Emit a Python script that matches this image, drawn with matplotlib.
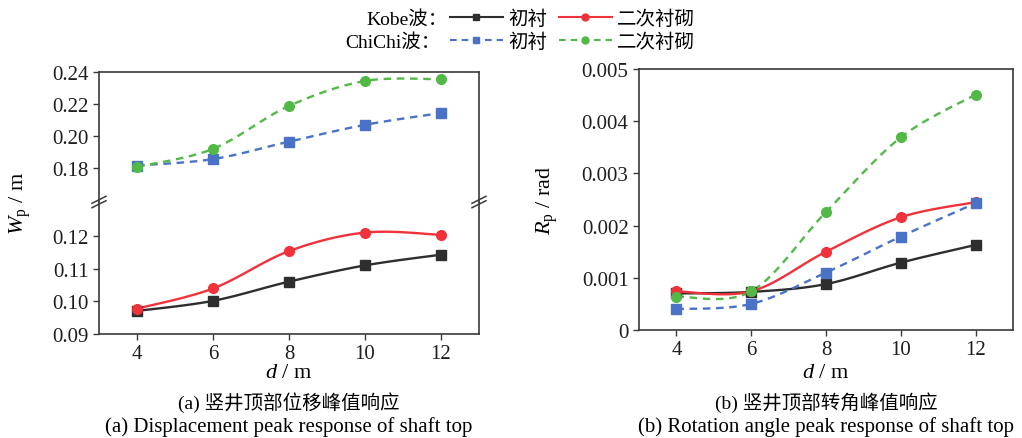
import numpy as np
import matplotlib
matplotlib.use("Agg")
import matplotlib.pyplot as plt
from matplotlib.lines import Line2D

plt.rcParams['font.family'] = ['Liberation Serif', 'Noto Sans CJK SC']
plt.rcParams['mathtext.fontset'] = 'custom'
plt.rcParams['mathtext.rm'] = 'Liberation Serif'
plt.rcParams['mathtext.it'] = 'Liberation Serif:italic'
plt.rcParams['axes.unicode_minus'] = False

# shaft depth d (m)
depth = [4, 6, 8, 10, 12]

# (a) peak displacement of shaft top Wp (m)
disp_kobe_initial = [0.0971, 0.1002, 0.1061, 0.1111, 0.1144]
disp_kobe_secondary = [0.0978, 0.1040, 0.1155, 0.1212, 0.1205]
disp_chichi_initial = [0.1814, 0.1854, 0.1963, 0.2068, 0.2142]
disp_chichi_secondary = [0.1806, 0.1918, 0.2186, 0.2342, 0.2353]

# (b) peak rotation of shaft top Rp (rad)
rot_kobe_initial = [0.00070, 0.00073, 0.00088, 0.00129, 0.00163]
rot_kobe_secondary = [0.00074, 0.00074, 0.00150, 0.00216, 0.00245]
rot_chichi_initial = [0.00040, 0.00050, 0.00110, 0.00179, 0.00243]
rot_chichi_secondary = [0.00064, 0.00074, 0.00226, 0.00369, 0.00451]

xticks = [4, 6, 8, 10, 12]
upper_ticks = [0.18, 0.20, 0.22, 0.24]
lower_ticks = [0.09, 0.10, 0.11, 0.12]
rot_ticks = [0, 0.001, 0.002, 0.003, 0.004, 0.005]
rot_ticklabels = ['0', '0.001', '0.002', '0.003', '0.004', '0.005']

C_BLACK = '#2e2e2e'
C_RED = '#f0323a'
C_BLUE = '#4a72c6'
C_GREEN = '#52b947'
FRAME = '#3a3a3a'

styles = {
    'ki': dict(color=C_BLACK, marker='s', ls='-'),
    'ks': dict(color=C_RED, marker='o', ls='-'),
    'ci': dict(color=C_BLUE, marker='s', ls=(0, (3.2, 2.4))),
    'cs': dict(color=C_GREEN, marker='o', ls=(0, (3.2, 2.4))),
}


def smooth(x, y, n=30):
    # excel-like smoothed line: cubic bezier with catmull-rom control points
    x = np.asarray(x, float)
    y = np.asarray(y, float)
    px = np.concatenate([[x[0]], x, [x[-1]]])
    py = np.concatenate([[y[0]], y, [y[-1]]])
    xs, ys = [], []
    t = np.linspace(0, 1, n)
    for i in range(1, len(px) - 2):
        p0 = np.array([px[i], py[i]])
        p3 = np.array([px[i + 1], py[i + 1]])
        c1 = p0 + (p3 - np.array([px[i - 1], py[i - 1]])) / 6
        c2 = p3 - (np.array([px[i + 2], py[i + 2]]) - p0) / 6
        b = ((1 - t) ** 3)[:, None] * p0 + (3 * (1 - t) ** 2 * t)[:, None] * c1 \
            + (3 * (1 - t) * t ** 2)[:, None] * c2 + (t ** 3)[:, None] * p3
        xs.append(b[:, 0])
        ys.append(b[:, 1])
    return np.concatenate(xs), np.concatenate(ys)


def draw(ax, y, key):
    st = styles[key]
    sx, sy = smooth(depth, y)
    ax.plot(sx, sy, color=st['color'], ls=st['ls'], lw=1.7, zorder=2)
    ax.plot(depth, y, color=st['color'], marker=st['marker'], ls='none',
            ms=7 if st['marker'] == 'o' else 6.5, zorder=3)


def style_axis(ax):
    for s in ax.spines.values():
        s.set_color(FRAME)
        s.set_linewidth(1.2)
    ax.tick_params(direction='out', length=4, width=1.0, color=FRAME,
                   labelsize=15, labelcolor='#1e1e1e')
    ax.set_xlim(3, 13)


fig = plt.figure(figsize=(10.22, 4.39), dpi=100)
W, H = 1022.0, 439.0

# left panel: broken y axis built from two stacked axes
lx0, lx1 = 99 / W, 479 / W
top, brk, bot = 1 - 72.7 / H, 1 - 203 / H, 1 - 335 / H
ax_up = fig.add_axes([lx0, brk, lx1 - lx0, top - brk])
ax_lo = fig.add_axes([lx0, bot, lx1 - lx0, brk - bot])

for ax in (ax_up, ax_lo):
    style_axis(ax)
    ax.set_xticks(xticks)

draw(ax_up, disp_chichi_initial, 'ci')
draw(ax_up, disp_chichi_secondary, 'cs')
draw(ax_lo, disp_kobe_initial, 'ki')
draw(ax_lo, disp_kobe_secondary, 'ks')

ax_up.set_ylim(0.1586, 0.24)
ax_up.set_yticks(upper_ticks)
ax_up.set_yticklabels([f'{v:.2f}' for v in upper_ticks])
ax_up.spines['bottom'].set_visible(False)
ax_up.tick_params(axis='x', which='both', bottom=False, labelbottom=False)

ax_lo.set_ylim(0.09, 0.1306)
ax_lo.set_yticks(lower_ticks)
ax_lo.set_yticklabels([f'{v:.2f}' for v in lower_ticks])
ax_lo.spines['top'].set_visible(False)

# break marks on both sides
for xb in (lx0, lx1):
    for dy in (-2.2 / H, 2.2 / H):
        fig.add_artist(Line2D([xb - 7 / W, xb + 7 / W],
                              [brk + dy - 3.5 / H, brk + dy + 3.5 / H],
                              color=FRAME, lw=1.1))

# right panel
rx0, rx1 = 639 / W, 1013 / W
rtop, rbot = 1 - 70 / H, 1 - 331 / H
ax_r = fig.add_axes([rx0, rbot, rx1 - rx0, rtop - rbot])
style_axis(ax_r)
ax_r.set_xticks(xticks)
ax_r.set_ylim(0, 0.005)
ax_r.set_yticks(rot_ticks)
ax_r.set_yticklabels(rot_ticklabels)
draw(ax_r, rot_kobe_initial, 'ki')
draw(ax_r, rot_kobe_secondary, 'ks')
draw(ax_r, rot_chichi_initial, 'ci')
draw(ax_r, rot_chichi_secondary, 'cs')

# axis labels
fig.text(20 / W, 1 - 203 / H, r'$W_\mathrm{p}$ / m', rotation=90,
         ha='center', va='center', fontsize=16)
fig.text(547 / W, 1 - 200 / H, r'$R_\mathrm{p}$ / rad', rotation=90,
         ha='center', va='center', fontsize=16)
for xc in ((lx0 + lx1) / 2, (rx0 + rx1) / 2):
    fig.text(xc, 1 - 373 / H, r'$d$ / m', ha='center', va='center', fontsize=16)

# captions
fig.text((lx0 + lx1) / 2, 1 - 403 / H, '(a) 竖井顶部位移峰值响应',
         ha='center', va='center', fontsize=14)
fig.text((lx0 + lx1) / 2, 1 - 427 / H, '(a) Displacement peak response of shaft top',
         ha='center', va='center', fontsize=15)
fig.text((rx0 + rx1) / 2, 1 - 403 / H, '(b) 竖井顶部转角峰值响应',
         ha='center', va='center', fontsize=14)
fig.text((rx0 + rx1) / 2, 1 - 427 / H, '(b) Rotation angle peak response of shaft top',
         ha='center', va='center', fontsize=15)


# legend: one row per earthquake wave
def legend_handle(key):
    st = styles[key]
    return Line2D([], [], color=st['color'], ls=st['ls'], lw=1.5,
                  marker=st['marker'], ms=5)


rows = [
    ('Kobe波：', 448, 20, ['ki', 'ks']),
    ('ChiChi波：', 440, 43, ['ci', 'cs']),
]
for title, xr, yc, keys in rows:
    fig.text(xr / W, 1 - yc / H, title, ha='right', va='center', fontsize=14)
    fig.legend([legend_handle(k) for k in keys], ['初衬', '二次衬砌'],
               loc='center left', bbox_to_anchor=(450 / W, 1 - yc / H),
               ncol=2, frameon=False, fontsize=14, handlelength=2.7,
               handletextpad=0.3, columnspacing=0.6, borderpad=0,
               borderaxespad=0, numpoints=1)

fig.savefig('out.png', dpi=100)
